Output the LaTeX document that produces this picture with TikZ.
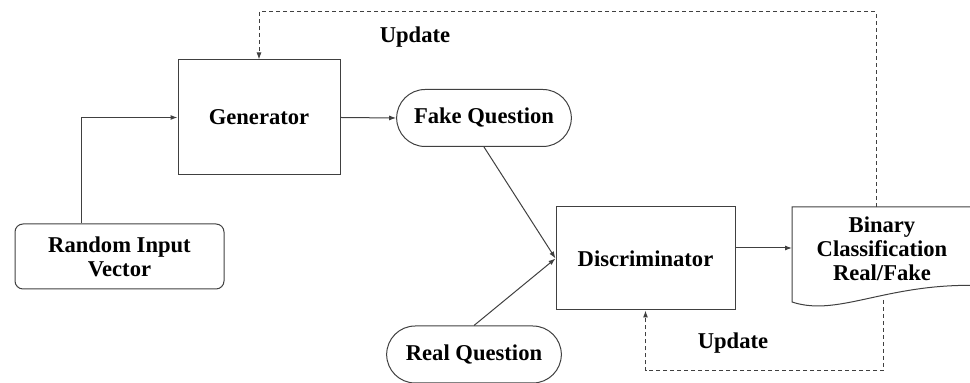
\documentclass[tikz,border=0pt]{standalone}
\usepackage{fontspec}
\setmainfont{Liberation Serif}
\usetikzlibrary{positioning, shapes.misc, arrows.meta}

\begin{document}
\begin{tikzpicture}[x=0.5pt, y=-0.5pt,
    font=\bfseries\fontsize{11.3}{12}\selectfont,
    line width=0.5pt, draw=black!75,
    >={Latex[length=3.5pt,width=2.5pt]},
    block/.style={draw, rectangle, align=center},
    pill/.style={draw, rounded rectangle, minimum width=94pt, minimum height=28.5pt},
    upd/.style={dash pattern=on 2pt off 1.5pt}]
    \useasboundingbox (0,0) rectangle (970,383);
    \clip (0,0) rectangle (970,383);

    % main blocks
    \node[block, minimum width=81pt, minimum height=57.5pt] (gen) at (259,117.5) {Generator};
    \node[pill] (fake) at (484,118) {Fake Question};
    \node[block, rounded corners=4pt, minimum width=104.5pt, minimum height=32.5pt, align=center] (rand) at (119.5,256.5) {Random Input\\Vector};
    \node[block, minimum width=89.5pt, minimum height=51.5pt] (disc) at (645.5,258.5) {Discriminator};
    \node[pill] (real) at (474,354.5) {Real Question};

    % output document (cut by the right border)
    \node[align=center, inner sep=0pt] (bin) at (882,249) {Binary\\Classification\\Real/Fake};
    \draw (792,207) -- (990,207) -- (990,286) .. controls (890,280) and (840,318) .. (792,302) -- cycle;
    \coordinate (bin-in) at (792,248);
    \coordinate (bin-top) at (876,207);
    \coordinate (bin-bot) at (883,300);

    % data flow
    \draw[->] ([xshift=-19pt]rand.north) |- (gen.west);
    \draw[->] (gen.east) -- (fake.west);
    \draw[->] (fake.south) -- (disc.west);
    \draw[->] (real.north) -- (disc.west);
    \draw[->] (disc.east |- bin-in) -- (bin-in);

    % feedback loops
    \coordinate (top) at (876,12);
    \coordinate (low) at (883,371);
    \draw[upd,->] (bin-top) -- (top) -| (gen.north);
    \draw[upd,->] (bin-bot) -- (low) -| (disc.south);
    \node (upd1) at (415,37) {Update};
    \node (upd2) at (733,343) {Update};
\end{tikzpicture}
\end{document}
